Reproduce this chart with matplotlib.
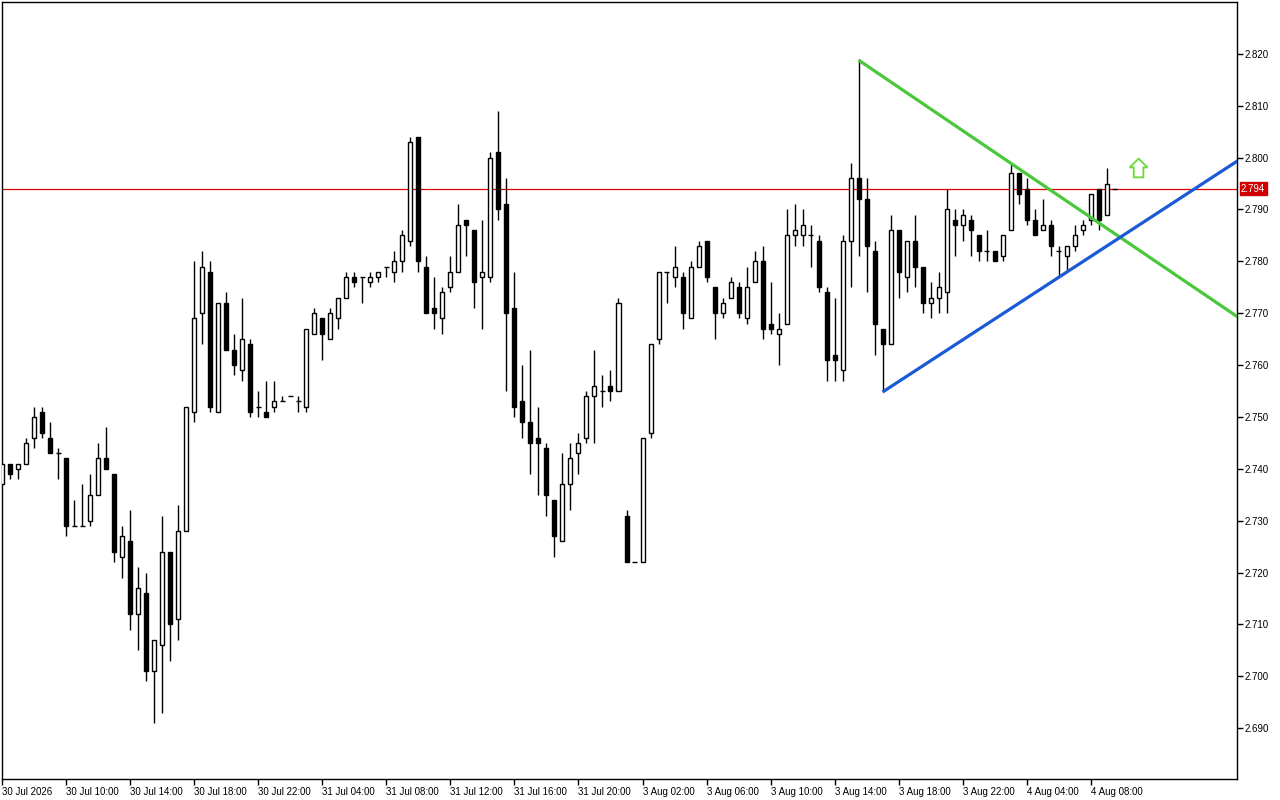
import matplotlib
matplotlib.use("Agg")
import matplotlib.pyplot as plt
from matplotlib.patches import Polygon
import matplotlib.transforms as mtransforms

# M30 candles
opens = [2.737, 2.741, 2.740, 2.741, 2.746, 2.751, 2.746, 2.743, 2.742, 2.729,
         2.729, 2.730, 2.735, 2.742, 2.739, 2.723, 2.726, 2.712, 2.716, 2.701,
         2.706, 2.724, 2.711, 2.728, 2.751, 2.770, 2.778, 2.751, 2.772, 2.763,
         2.759, 2.764, 2.752, 2.751, 2.752, 2.753, 2.754, 2.753, 2.752, 2.766,
         2.769, 2.765, 2.769, 2.773, 2.777, 2.777, 2.776, 2.777, 2.779, 2.778,
         2.780, 2.784, 2.804, 2.779, 2.771, 2.769, 2.775, 2.778, 2.788, 2.786,
         2.777, 2.777, 2.801, 2.791, 2.771, 2.753, 2.749, 2.746, 2.744, 2.734,
         2.726, 2.737, 2.743, 2.746, 2.754, 2.755, 2.756, 2.755, 2.731, 2.722,
         2.722, 2.747, 2.765, 2.778, 2.777, 2.777, 2.769, 2.779, 2.784, 2.775,
         2.770, 2.773, 2.775, 2.769, 2.776, 2.780, 2.768, 2.766, 2.768, 2.785,
         2.785, 2.785, 2.784, 2.774, 2.762, 2.759, 2.784, 2.796, 2.792, 2.782,
         2.767, 2.764, 2.786, 2.777, 2.784, 2.779, 2.772, 2.773, 2.774, 2.788,
         2.787, 2.788, 2.785, 2.782, 2.782, 2.781, 2.786, 2.797, 2.794, 2.788,
         2.786, 2.787, 2.782, 2.781, 2.783, 2.786, 2.788, 2.794, 2.789, 2.794]
highs = [2.741, 2.741, 2.741, 2.746, 2.752, 2.752, 2.749, 2.744, 2.742, 2.734,
         2.737, 2.739, 2.745, 2.748, 2.739, 2.729, 2.732, 2.721, 2.720, 2.707,
         2.731, 2.724, 2.733, 2.752, 2.780, 2.782, 2.780, 2.772, 2.774, 2.766,
         2.773, 2.765, 2.755, 2.757, 2.757, 2.754, 2.754, 2.754, 2.767, 2.771,
         2.769, 2.771, 2.773, 2.778, 2.778, 2.777, 2.778, 2.778, 2.779, 2.782,
         2.786, 2.804, 2.804, 2.781, 2.777, 2.775, 2.781, 2.791, 2.788, 2.786,
         2.788, 2.801, 2.809, 2.796, 2.778, 2.760, 2.763, 2.752, 2.745, 2.734,
         2.743, 2.745, 2.747, 2.755, 2.763, 2.758, 2.759, 2.773, 2.732, 2.722,
         2.746, 2.764, 2.778, 2.778, 2.783, 2.778, 2.780, 2.784, 2.784, 2.775,
         2.773, 2.777, 2.776, 2.779, 2.782, 2.783, 2.776, 2.770, 2.790, 2.791,
         2.790, 2.787, 2.785, 2.775, 2.773, 2.785, 2.799, 2.819, 2.796, 2.784,
         2.767, 2.789, 2.786, 2.784, 2.789, 2.779, 2.776, 2.778, 2.794, 2.790,
         2.790, 2.789, 2.785, 2.786, 2.782, 2.785, 2.799, 2.797, 2.796, 2.790,
         2.792, 2.788, 2.783, 2.783, 2.787, 2.788, 2.793, 2.794, 2.798, 2.794]
lows = [2.737, 2.738, 2.738, 2.741, 2.744, 2.746, 2.743, 2.738, 2.727, 2.729,
        2.729, 2.729, 2.735, 2.740, 2.722, 2.719, 2.709, 2.705, 2.699, 2.691,
        2.693, 2.703, 2.707, 2.728, 2.749, 2.764, 2.751, 2.751, 2.763, 2.758,
        2.757, 2.750, 2.750, 2.750, 2.751, 2.753, 2.754, 2.751, 2.751, 2.766,
        2.761, 2.765, 2.767, 2.773, 2.775, 2.772, 2.775, 2.776, 2.777, 2.776,
        2.778, 2.783, 2.778, 2.770, 2.767, 2.766, 2.774, 2.778, 2.781, 2.771,
        2.767, 2.776, 2.788, 2.755, 2.750, 2.746, 2.739, 2.735, 2.731, 2.723,
        2.726, 2.732, 2.739, 2.745, 2.745, 2.752, 2.753, 2.755, 2.722, 2.722,
        2.722, 2.746, 2.764, 2.772, 2.775, 2.767, 2.769, 2.779, 2.776, 2.765,
        2.769, 2.773, 2.769, 2.768, 2.776, 2.765, 2.766, 2.760, 2.768, 2.783,
        2.783, 2.779, 2.774, 2.757, 2.757, 2.757, 2.775, 2.781, 2.774, 2.762,
        2.755, 2.764, 2.773, 2.774, 2.775, 2.770, 2.769, 2.770, 2.770, 2.781,
        2.784, 2.781, 2.780, 2.780, 2.780, 2.780, 2.786, 2.791, 2.787, 2.785,
        2.786, 2.781, 2.777, 2.778, 2.782, 2.785, 2.787, 2.786, 2.789, 2.794]
closes = [2.741, 2.739, 2.741, 2.745, 2.750, 2.747, 2.743, 2.743, 2.729, 2.729,
          2.729, 2.735, 2.742, 2.740, 2.724, 2.727, 2.712, 2.717, 2.701, 2.707,
          2.724, 2.710, 2.728, 2.752, 2.769, 2.779, 2.752, 2.772, 2.763, 2.760,
          2.765, 2.751, 2.752, 2.750, 2.753, 2.753, 2.754, 2.753, 2.767, 2.770,
          2.766, 2.770, 2.773, 2.777, 2.776, 2.777, 2.777, 2.778, 2.779, 2.780,
          2.785, 2.803, 2.780, 2.770, 2.770, 2.774, 2.778, 2.787, 2.787, 2.776,
          2.778, 2.800, 2.790, 2.770, 2.752, 2.749, 2.745, 2.745, 2.735, 2.727,
          2.737, 2.742, 2.745, 2.754, 2.756, 2.755, 2.755, 2.772, 2.722, 2.722,
          2.746, 2.764, 2.778, 2.778, 2.779, 2.770, 2.779, 2.783, 2.777, 2.770,
          2.772, 2.776, 2.770, 2.775, 2.780, 2.767, 2.767, 2.767, 2.785, 2.786,
          2.787, 2.785, 2.775, 2.761, 2.761, 2.784, 2.796, 2.792, 2.783, 2.768,
          2.764, 2.786, 2.778, 2.784, 2.779, 2.772, 2.773, 2.775, 2.790, 2.787,
          2.789, 2.786, 2.782, 2.782, 2.780, 2.785, 2.797, 2.793, 2.788, 2.785,
          2.787, 2.783, 2.782, 2.783, 2.785, 2.787, 2.793, 2.788, 2.795, 2.794]

time_labels = ["30 Jul 2026", "30 Jul 10:00", "30 Jul 14:00", "30 Jul 18:00",
               "30 Jul 22:00", "31 Jul 04:00", "31 Jul 08:00", "31 Jul 12:00",
               "31 Jul 16:00", "31 Jul 20:00", "3 Aug 02:00", "3 Aug 06:00",
               "3 Aug 10:00", "3 Aug 14:00", "3 Aug 18:00", "3 Aug 22:00",
               "4 Aug 04:00", "4 Aug 08:00"]
label_step = 8
price_ticks = [2.690, 2.700, 2.710, 2.720, 2.730, 2.740, 2.750,
               2.760, 2.770, 2.780, 2.790, 2.800, 2.810, 2.820]
last_price = 2.794

# trendlines: (bar index, price) anchors, drawn as rays to the right
green_line = [(107, 2.8188), (127, 2.7979)]
blue_line = [(110, 2.7548), (132, 2.7769)]
arrow_bar = 142.0
arrow_price = (2.7962, 2.7981, 2.7998)   # base, head start, tip

x_min, x_max = -0.05, 154.3
y_min, y_max = 2.6802, 2.8300

fig = plt.figure(figsize=(12.8, 8), dpi=100)
ax = fig.add_axes([2 / 1280, 21 / 800, 1235 / 1280, 777 / 800])
ax.set_xlim(x_min, x_max)
ax.set_ylim(y_min, y_max)

body_w = 0.5
for i, (o, h, l, c) in enumerate(zip(opens, highs, lows, closes)):
    ax.vlines(i, l, h, color="black", lw=1, zorder=2)
    if abs(c - o) < 1e-9:
        ax.hlines(o, i - body_w / 2 - 0.06, i + body_w / 2 + 0.06, color="black", lw=1, zorder=3)
    else:
        ax.bar(i, abs(c - o), bottom=min(o, c), width=body_w,
               color="white" if c > o else "black", edgecolor="black", lw=1, zorder=3)

def ray(pts):
    (x1, y1), (x2, y2) = pts
    k = (y2 - y1) / (x2 - x1)
    return [x1, x_max + 1], [y1, y1 + k * (x_max + 1 - x1)]

gx, gy = ray(green_line)
bx, by = ray(blue_line)
ax.plot(gx, gy, color="#48C83A", lw=2.3, zorder=4, solid_capstyle="butt")
ax.plot(bx, by, color="#1A5AD6", lw=2.3, zorder=4, solid_capstyle="butt")

# buy arrow
hw, sw = 1.12, 0.6
b, m, t = arrow_price
arrow = Polygon([(arrow_bar - sw, b), (arrow_bar + sw, b), (arrow_bar + sw, m),
                 (arrow_bar + hw, m), (arrow_bar, t), (arrow_bar - hw, m),
                 (arrow_bar - sw, m)], closed=True, facecolor="white",
                edgecolor="#6AD838", lw=1.3, zorder=5)
ax.add_patch(arrow)

# bid line and its label
ax.axhline(last_price, color="#E00000", lw=0.9, zorder=1)
trans = mtransforms.blended_transform_factory(ax.transAxes, ax.transData)
ax.text(1.0 + 4 / 1235, last_price, f"{last_price:.3f}", transform=trans,
        ha="left", va="center", color="white", fontsize=7, family="Liberation Sans",
        bbox=dict(boxstyle="square,pad=0.15", fc="#D00000", ec="#D00000"), zorder=6,
        clip_on=False)

for s in ax.spines.values():
    s.set_color("black")
    s.set_linewidth(1)

ax.yaxis.tick_right()
ax.set_yticks(price_ticks)
ax.set_yticklabels([f"{p:.3f}" for p in price_ticks])
ax.set_xticks(range(0, len(time_labels) * label_step, label_step))
ax.set_xticklabels(time_labels)
ax.tick_params(axis="both", direction="out", length=4, width=1, color="black",
               labelsize=7, labelcolor="black")
ax.tick_params(axis="y", pad=1.5)
ax.tick_params(axis="x", pad=1.5)
for lab in ax.get_xticklabels():
    lab.set_horizontalalignment("left")
    lab.set_family("Liberation Sans")
for lab in ax.get_yticklabels():
    lab.set_family("Liberation Sans")

fig.savefig("out.png", dpi=100, facecolor="white")
